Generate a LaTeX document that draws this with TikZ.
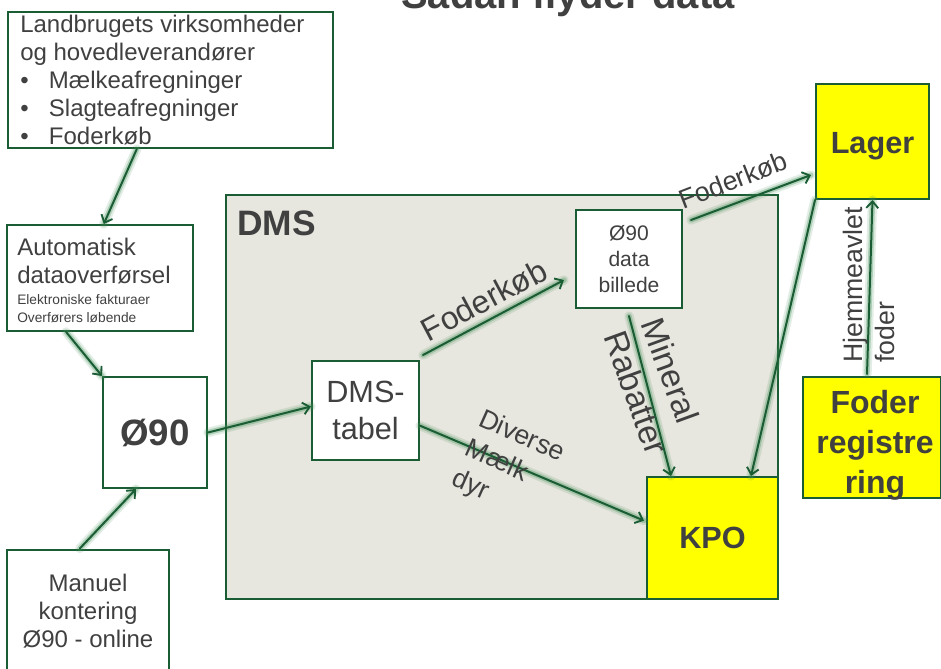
\documentclass[tikz,border=0pt]{standalone}
\usepackage{fontspec}
\setmainfont{Liberation Sans}
\usetikzlibrary{arrows.meta,calc}
\definecolor{bgreen}{RGB}{26,92,52}
\definecolor{glowg}{RGB}{60,140,80}
\definecolor{dmsfill}{RGB}{231,230,223}
\definecolor{txt}{RGB}{64,64,64}
\definecolor{yel}{RGB}{255,255,0}
\newcommand\fsz[2]{\fontsize{#1}{#2}\selectfont}
\newcommand\bul{\makebox[21.5pt][l]{•}}
\begin{document}
\begin{tikzpicture}[x=0.75pt,y=-0.75pt,
  box/.style={draw=bgreen, line width=1.5pt, fill=white, inner sep=0pt, text=txt, align=center},
  ybox/.style={box, fill=yel, font=\bfseries\fsz{23}{28}},
  conn/.style={draw=bgreen, line width=1.5pt, line cap=round,
    -{Straight Barb[length=5pt,width=9pt,line width=1.4pt]},
    preaction={draw=glowg, opacity=0.15, line width=7pt, line cap=round, -},
    preaction={draw=glowg, opacity=0.3, line width=4pt, line cap=round, -}},
  lbl/.style={text=txt, inner sep=0pt, align=left},
  clbl/.style={text=txt, inner sep=0pt, align=center}]
\useasboundingbox (0,0) rectangle (941,668);
\clip (0,0) rectangle (941,668);

% title
\node[font=\bfseries\fsz{30}{36}, text=txt, anchor=base] (title) at (568,8) {Sådan flyder data};

% DMS area
\node[box, fill=dmsfill, minimum width=414pt, minimum height=303pt] (dms) at (502,397) {};
\node[anchor=base west, inner sep=0pt, font=\bfseries\fsz{26.5}{32}, text=txt] (dmslbl) at (237,235) {DMS};

% boxes
\node[box, minimum width=243.75pt, minimum height=102pt] (land) at (170.5,80) {};
\node[lbl, anchor=north west, font=\fsz{18}{21}] (landtxt) at (20,15)
  {Landbrugets virksomheder\\og hovedleverandører\\\bul Mælkeafregninger\\\bul Slagteafregninger\\\bul Foderkøb};

\node[box, minimum width=139.5pt, minimum height=79.5pt] (auto) at (100,278) {};
\node[lbl, anchor=north west, font=\fsz{18}{21}] (autotxt) at (17,238) {Automatisk\\dataoverførsel};
\node[lbl, anchor=north west, font=\fsz{10.3}{13.5}] (autosmall) at (17,294) {Elektroniske fakturaer\\Overførers løbende};

\node[box, minimum width=78pt, minimum height=83.25pt, font=\bfseries\fsz{27.5}{33}] (o90) at (155,432.5) {Ø90};

\node[box, minimum width=121.5pt, minimum height=92.25pt, font=\fsz{18}{21}] (manuel) at (88,611) {Manuel\\kontering\\Ø90 - online};

\node[box, minimum width=80.25pt, minimum height=74.25pt, font=\fsz{23}{27.75}] (tabel) at (365.5,410.5) {DMS-\\tabel};

\node[box, minimum width=79.5pt, minimum height=73.5pt, font=\fsz{15.8}{19.5}] (billede) at (629,259) {Ø90\\data\\billede};

\node[ybox, minimum width=98.25pt, minimum height=91.5pt] (kpo) at (712.5,538) {KPO};
\node[ybox, minimum width=84.75pt, minimum height=86.25pt] (lager) at (872.5,141.5) {};
\node[clbl, font=\bfseries\fsz{23}{28}] (lagertxt) at (872.5,146) {Lager};
\node[ybox, minimum width=103.5pt, minimum height=90.75pt] (foder) at (872,437.5) {};
\node[clbl, font=\bfseries\fsz{24}{30}] (fodertxt) at (875,445) {Foder\\registre\\ring};

% connectors
\draw[conn] ($(land.south west)!0.397!(land.south east)$) -- ($(auto.north west)!0.52!(auto.north east)$);
\draw[conn] ($(auto.south west)!0.32!(auto.south east)$) -- (o90.north west);
\draw[conn] ($(manuel.north west)!0.45!(manuel.north east)$) -- ($(o90.south west)!0.32!(o90.south east)$);
\draw[conn] (o90.east) -- ($(tabel.north west)!0.46!(tabel.south west)$);
\draw[conn] ([shift={(3,-5)}]tabel.north east) -- ([shift={(-11,0)}]$(billede.north west)!0.71!(billede.south west)$);
\draw[conn] ([shift={(8,11)}]billede.north east) -- ([shift={(-4,-25)}]lager.south west);
\draw[conn] ([shift={(0,7)}]billede.south) -- ([shift={(25,0)}]kpo.north west);
\draw[conn] (lager.south west) -- ([shift={(-28,0)}]kpo.north east);
\draw[conn] ([shift={(-5,-2)}]foder.north) -- (lager.south);
\draw[conn] ($(tabel.north east)!0.65!(tabel.south east)$) -- ([shift={(-2,0)}]$(kpo.north west)!0.36!(kpo.south west)$);

% labels
\node[lbl, font=\fsz{24}{29}, rotate=28] (l1) at (484,300) {Foderkøb};
\node[lbl, font=\fsz{20}{24}, rotate=21] (l2) at (733,180) {Foderkøb};
\node[lbl, font=\fsz{25}{30}, rotate=-70] (l3) at (655,386) {Mineral\\Rabatter};
\node[lbl, font=\fsz{20}{24}, rotate=90] (l4) at (869,285) {Hjemmeavlet\\foder};
\node[lbl, font=\fsz{20}{24.5}, rotate=-24] (l5) at (508,467) {Diverse\\Mælk\\dyr};
\end{tikzpicture}
\end{document}
